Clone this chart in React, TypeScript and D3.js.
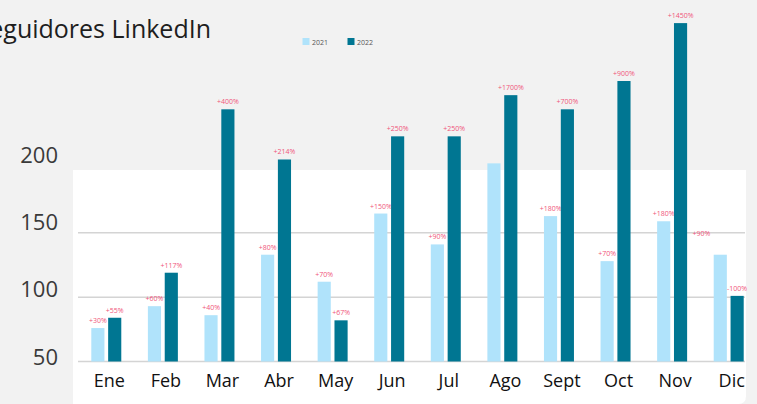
import React from 'react';
import {scaleBand, scaleLinear} from 'd3';

const width = 757;
const height = 404;

// datos
const months = ['Ene', 'Feb', 'Mar', 'Abr', 'May', 'Jun', 'Jul', 'Ago', 'Sept', 'Oct', 'Nov', 'Dic'];
const years = ['2021', '2022'];
const seg2021 = [76, 93, 86, 133, 112, 165, 141, 204, 163, 128, 159, 133];
const seg2022 = [84, 119, 246, 207, 82, 225, 225, 257, 246, 268, 313, 101];
const pct2021 = ['+30%', '+60%', '+40%', '+80%', '+70%', '+150%', '+90%', '', '+180%', '+70%', '+180%', '+90%'];
const pct2022 = ['+55%', '+117%', '+400%', '+214%', '+67%', '+250%', '+250%', '+1700%', '+700%', '+900%', '+1450%', '-100%'];
const yTicks = [50, 100, 150, 200];
const gridTicks = [50, 100, 150];

const colors = {'2021': '#b0e3fb', '2022': '#007692'};

export default function App() {
  const x = scaleBand().domain(months).range([78, 757]).paddingInner(0.47).paddingOuter(0.235);
  const x1 = scaleBand().domain(years).range([0, x.bandwidth()]).paddingInner(0.22);
  const y = scaleLinear().domain([50, 200]).range([361.5, 168.5]);
  // las etiquetas del eje no caen justo sobre las lineas
  const yLabel = scaleLinear().domain([50, 200]).range([357, 155]);

  const series = [
    {year: '2021', values: seg2021, labels: pct2021},
    {year: '2022', values: seg2022, labels: pct2022},
  ];

  return (
    <svg width={width} height={height} style={{position: 'absolute', left: 0, top: 0, background: '#f2f2f2'}}
         fontFamily="'Open Sans', 'Noto Sans', sans-serif">
      <rect x={0} y={0} width={width} height={height} fill="#f2f2f2"/>
      <path d="M73,170 H746 V396 Q746,404 738,404 H73 Z" fill="#ffffff"/>

      <text x={211} y={38} textAnchor="end" fontSize={25} fill="#1e1e1e">Seguidores LinkedIn</text>

      {years.map((yr, i) => (
        <g key={yr} transform={`translate(${302.5 + i * 45},38)`}>
          <rect width={7} height={7} fill={colors[yr]}/>
          <text x={9.5} y={6.5} fontSize={7} fill="#555">{yr}</text>
        </g>
      ))}

      {gridTicks.map(t => (
        <line key={t} x1={78} x2={745} y1={y(t)} y2={y(t)} stroke="#d4d4d4" strokeWidth={1.5}/>
      ))}

      {yTicks.map(t => (
        <text key={t} x={58} y={yLabel(t)} dy="0.35em" textAnchor="end" fontSize={22} fill="#3a3a3a">{t}</text>
      ))}

      {series.map(s => (
        <g key={s.year}>
          {months.map((m, i) => {
            const bx = x(m)! + x1(s.year)!;
            const top = y(s.values[i]);
            let lx = bx + x1.bandwidth() / 2;
            let ly = top - 5;
            if (s.year === '2021' && m === 'Dic') { lx -= 19; ly -= 14; }
            return (
              <g key={m}>
                <rect x={bx} y={top} width={x1.bandwidth()} height={y(50) - top} fill={colors[s.year]}/>
                {s.labels[i] && (
                  <text x={lx} y={ly} textAnchor="middle" fontSize={7} fill="#f0557a">{s.labels[i]}</text>
                )}
              </g>
            );
          })}
        </g>
      ))}

      {months.map(m => (
        <text key={m} x={x(m)! + x.bandwidth() / 2 + 3} y={387} textAnchor="middle" fontSize={18} fill="#111">{m}</text>
      ))}
    </svg>
  );
}
